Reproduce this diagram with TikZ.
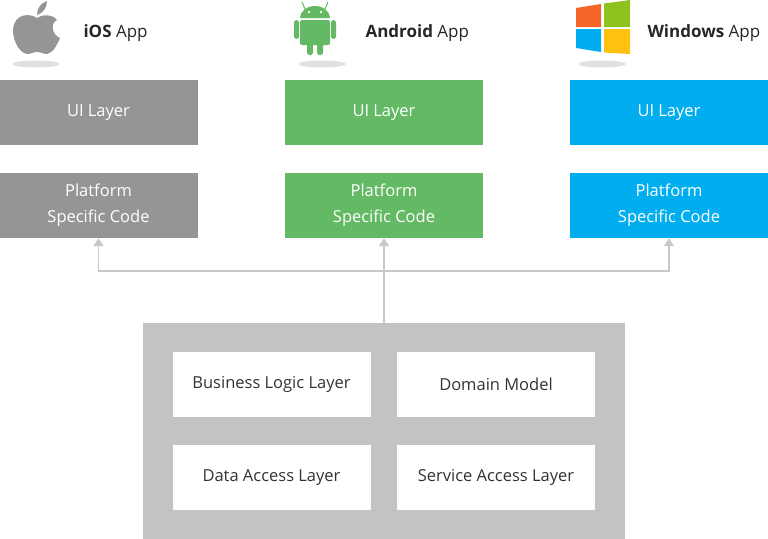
\documentclass[tikz,border=0pt]{standalone}
\usepackage{fontspec}
\setmainfont{Open Sans}
\usetikzlibrary{positioning,arrows.meta}
\definecolor{iosgrey}{HTML}{959595}
\definecolor{droidgreen}{HTML}{64B964}
\definecolor{winblue}{HTML}{00AEEF}
\definecolor{coregrey}{HTML}{C3C3C3}
\definecolor{linkgrey}{HTML}{C8C8C8}
\definecolor{wred}{HTML}{F5652A}
\definecolor{wgreen}{HTML}{8DC21F}
\definecolor{wblue}{HTML}{00ADEF}
\definecolor{wyellow}{HTML}{FDC20F}
\begin{document}
\begin{tikzpicture}[
    x=1pt, y=-1pt,
    layer/.style={rectangle, minimum width=198pt, minimum height=65pt, text=white, align=center, font=\fontsize{16.5}{26}\selectfont, inner sep=0pt},
    inner/.style={rectangle, fill=white, minimum width=198pt, minimum height=65pt, text=black!80, font=\fontsize{16.5}{19}\selectfont, inner sep=0pt},
    title/.style={anchor=west, font=\fontsize{17}{19}\selectfont, text=black!85},
    shadow/.style={fill=black!12, draw=none},
    link/.style={linkgrey, line width=1.6pt, -{Triangle[length=8pt,width=10pt]}}
]
\useasboundingbox (0,0) rectangle (768,538);
% Platform columns
\node[layer, fill=iosgrey] (iosui) at (98.5,112.5) {UI Layer};
\node[layer, fill=iosgrey] (iospsc) at (98.5,205.5) {Platform\\Specific Code};
\node[layer, fill=droidgreen] (droidui) at (384,112.5) {UI Layer};
\node[layer, fill=droidgreen] (droidpsc) at (384,205.5) {Platform\\Specific Code};
\node[layer, fill=winblue] (winui) at (669,112.5) {UI Layer};
\node[layer, fill=winblue] (winpsc) at (669,205.5) {Platform\\Specific Code};
% Shared core
\node[rectangle, fill=coregrey, minimum width=482pt, minimum height=216pt, inner sep=0pt] (core) at (384,431) {};
\node[inner] (bll) at (271.5,384.5) {Business Logic Layer};
\node[inner] (dom) at (496,384.5) {Domain Model};
\node[inner] (dal) at (271.5,477.5) {Data Access Layer};
\node[inner] (sal) at (496,477.5) {Service Access Layer};
% Connectors
\coordinate (hub) at (384,271);
\draw[link] (core.north) -- (droidpsc.south);
\draw[link] (hub) -| (iospsc.south);
\draw[link] (hub) -| (winpsc.south);
% Titles
\node[title] (iostitle) at (80,33) {\textbf{iOS} App};
\node[title] (droidtitle) at (362,33) {\textbf{Android} App};
\node[title] (wintitle) at (644,33) {\textbf{Windows} App};
% Icon shadows
\foreach \cx in {36,322,602} \fill[shadow] (\cx,64) ellipse (24pt and 3.5pt);
% Apple
\fill[iosgrey] (37,18) .. controls (30,13) and (14,13) .. (13,30)
  .. controls (13,42) and (20,53) .. (27,54)
  .. controls (31,54) and (33,52) .. (37,52)
  .. controls (41,52) and (43,54) .. (47,54)
  .. controls (53,53) and (57,45) .. (60,38)
  .. controls (52,35) and (50,23) .. (57,20)
  .. controls (52,14) and (44,14) .. (37,18) -- cycle;
\fill[iosgrey] (37,15) .. controls (37,8) and (41,3) .. (47,1)
  .. controls (47,8) and (43,13) .. (37,15) -- cycle;
% Android
\fill[droidgreen] (300,18) arc[start angle=180, end angle=0, x radius=15pt, y radius=12pt] -- cycle;
\draw[droidgreen, line width=1pt] (305,9) -- (302,2) (325,9) -- (328,2);
\fill[white] (309,12) circle (1.3pt) (321,12) circle (1.3pt);
\fill[droidgreen, rounded corners=2pt] (300,20) rectangle (330,45);
\fill[droidgreen, rounded corners=2.5pt] (294,20) rectangle (299,39) (331,20) rectangle (336,39);
\fill[droidgreen, rounded corners=2.5pt] (307,40) rectangle (313,55) (317,40) rectangle (323,55);
% Windows
\fill[wred] (576,8) -- (601,4) -- (601,27) -- (576,27) -- cycle;
\fill[wgreen] (604,3.5) -- (630,0) -- (630,27) -- (604,27) -- cycle;
\fill[wblue] (576,29) -- (601,29) -- (601,52) -- (576,48) -- cycle;
\fill[wyellow] (604,29) -- (630,29) -- (630,54) -- (604,52.5) -- cycle;
\end{tikzpicture}
\end{document}
